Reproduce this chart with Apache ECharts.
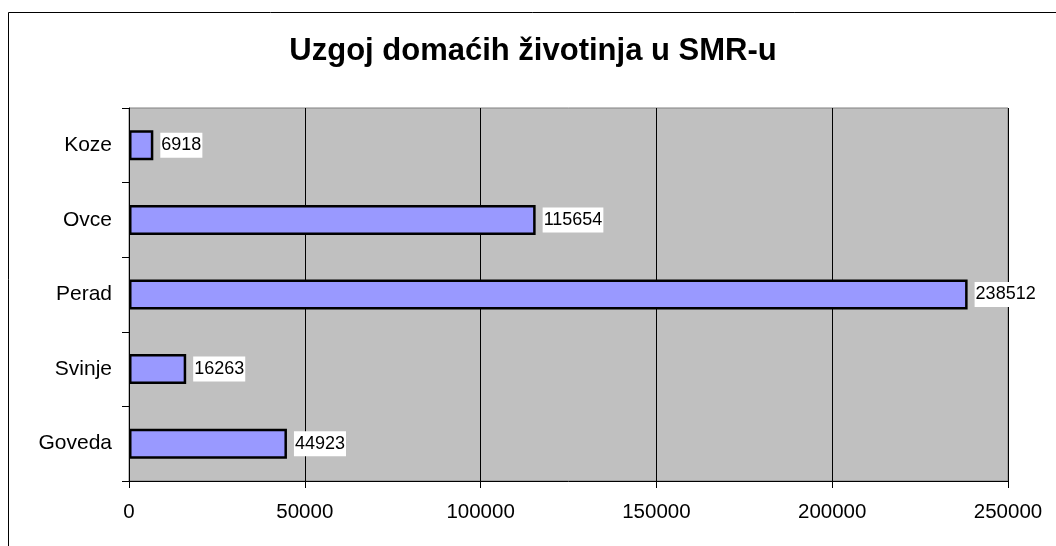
<!DOCTYPE html>
<html>
<head>
<meta charset="utf-8">
<script src="https://cdn.jsdelivr.net/npm/echarts@6/dist/echarts.min.js"></script>
<style>
  html, body { margin: 0; padding: 0; background: #fff; }
  #chart { width: 1056px; height: 546px; }
</style>
</head>
<body>
<div id="chart"></div>
<script>
// kategorije odozdo prema gore
const categories = ['Goveda', 'Svinje', 'Perad', 'Ovce', 'Koze'];
const values = [44923, 16263, 238512, 115654, 6918];
const xTicks = [0, 50000, 100000, 150000, 200000, 250000];

const chart = echarts.init(document.getElementById('chart'));
const font = 'Liberation Sans, Arial, sans-serif';

const option = {
  backgroundColor: '#fff',
  animation: false,
  title: {
    text: 'Uzgoj domaćih životinja u SMR-u',
    left: 528,
    top: 31,
    textAlign: 'center',
    textStyle: { fontFamily: font, fontSize: 31, fontWeight: 'bold', color: '#000' }
  },
  graphic: [
    {
      // okvir grafikona
      type: 'rect',
      shape: { x: 8.5, y: 12.5, width: 1100, height: 600 },
      style: { fill: null, stroke: '#000', lineWidth: 1 },
      silent: true
    }
  ],
  grid: {
    left: 129,
    top: 108,
    right: 48,
    bottom: 65,
    show: true,
    backgroundColor: '#c0c0c0',
    borderColor: '#808080',
    borderWidth: 1
  },
  xAxis: {
    type: 'value',
    min: xTicks[0],
    max: xTicks[xTicks.length - 1],
    interval: 50000,
    axisLine: { show: true, lineStyle: { color: '#000', width: 1 } },
    axisTick: { show: true, length: 7, lineStyle: { color: '#000' } },
    axisLabel: {
      fontFamily: font, fontSize: 20.5, color: '#000', margin: 21,
      formatter: v => String(v)
    },
    splitLine: { show: true, lineStyle: { color: '#000', width: 1 } }
  },
  yAxis: {
    type: 'category',
    data: categories,
    axisLine: { show: true, lineStyle: { color: '#000', width: 1 } },
    axisTick: { show: true, length: 7, alignWithLabel: false, lineStyle: { color: '#000' } },
    axisLabel: { fontFamily: font, fontSize: 21, color: '#000', margin: 17 },
    splitLine: { show: false }
  },
  series: [
    {
      type: 'bar',
      data: values,
      barWidth: 30,
      itemStyle: { color: '#9999ff', borderColor: '#000', borderWidth: 2.5 },
      label: {
        show: true,
        position: 'right',
        distance: 7,
        fontFamily: font,
        fontSize: 18,
        color: '#000',
        backgroundColor: '#fff',
        padding: [4, 1, 3, 1]
      }
    }
  ]
};

chart.setOption(option);
</script>
</body>
</html>
